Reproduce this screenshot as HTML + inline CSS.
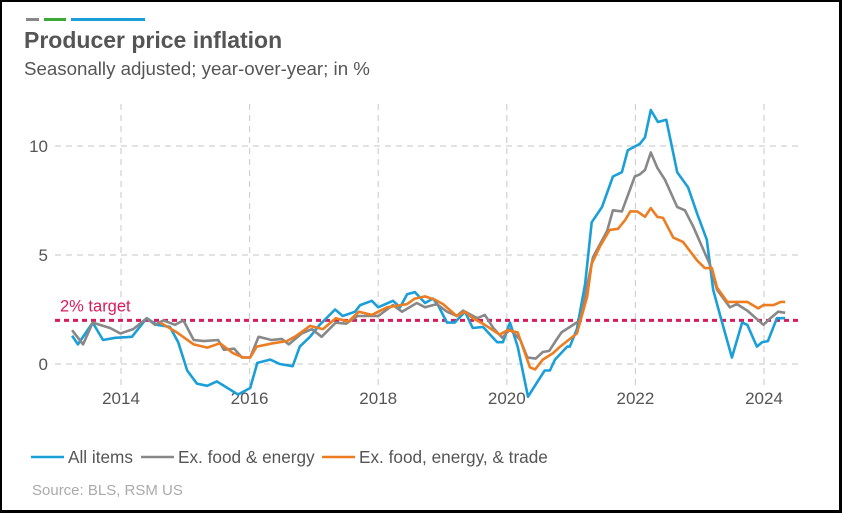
<!DOCTYPE html>
<html><head><meta charset="utf-8"><style>
html,body{margin:0;padding:0;background:#fff;}
#wrap{position:relative;width:842px;height:513px;box-sizing:border-box;border:2px solid #000;border-right-width:3px;border-bottom-width:3px;overflow:hidden;font-family:"Liberation Sans",sans-serif;}
svg text{font-family:"Liberation Sans",sans-serif;}
</style></head><body>
<div id="wrap">
<svg id="chart" width="842" height="513" style="position:absolute;left:-2px;top:-2px">
<rect x="26" y="18" width="13" height="3" fill="#888"/>
<rect x="44" y="18" width="22" height="3" fill="#3aa935"/>
<rect x="71" y="18" width="74" height="3" fill="#1a9fd8"/>
<text x="24" y="48" font-size="23" font-weight="bold" fill="#555">Producer price inflation</text>
<text x="24" y="75" font-size="18.7" fill="#555">Seasonally adjusted; year-over-year; in %</text>
<g id="grid"></g>
<g id="series"></g>
<text x="32" y="495" font-size="15" fill="#aaa">Source: BLS, RSM US</text>
</svg>
</div>
<script>
const yTicks=[0,5,10];
const xTicks=[2014,2016,2018,2020,2022,2024];
const targetValue=2;
const seriesNames=["All items","Ex. food & energy","Ex. food, energy, & trade"];
const allDates=[2013.24,2013.33,2013.56,2013.72,2013.91,2014.17,2014.40,2014.56,2014.76,2014.89,2015.03,2015.18,2015.34,2015.49,2015.82,2016.01,2016.12,2016.32,2016.47,2016.67,2016.78,2016.94,2017.09,2017.33,2017.45,2017.64,2017.72,2017.90,2018.00,2018.23,2018.34,2018.45,2018.57,2018.73,2018.85,2018.93,2019.07,2019.19,2019.35,2019.47,2019.63,2019.74,2019.85,2019.94,2020.05,2020.17,2020.33,2020.49,2020.59,2020.67,2020.75,2020.94,2020.98,2021.09,2021.22,2021.32,2021.48,2021.65,2021.79,2021.88,2022.07,2022.15,2022.24,2022.35,2022.48,2022.65,2022.82,2022.96,2023.11,2023.21,2023.32,2023.50,2023.66,2023.74,2023.89,2023.97,2024.06,2024.20,2024.33];
const allValues=[1.3,0.9,1.9,1.1,1.2,1.25,2.1,1.8,1.7,1.0,-0.3,-0.9,-1.0,-0.8,-1.4,-1.1,0.05,0.2,0.0,-0.1,0.8,1.25,1.8,2.5,2.2,2.4,2.7,2.9,2.6,2.9,2.6,3.2,3.3,2.8,3.0,2.7,1.9,1.9,2.4,1.65,1.7,1.35,1.0,1.0,1.9,0.8,-1.5,-0.75,-0.3,-0.3,0.2,0.8,0.8,1.6,3.7,6.5,7.2,8.6,8.8,9.8,10.1,10.4,11.65,11.1,11.2,8.8,8.1,6.9,5.7,3.4,2.2,0.3,1.9,1.8,0.8,1.0,1.05,2.1,2.1];
const coreDates=[2013.24,2013.41,2013.56,2013.83,2013.99,2014.19,2014.40,2014.53,2014.66,2014.84,2014.97,2015.13,2015.29,2015.51,2015.60,2015.76,2015.88,2016.01,2016.14,2016.34,2016.50,2016.61,2016.81,2016.97,2017.12,2017.34,2017.50,2017.68,2018.00,2018.23,2018.37,2018.60,2018.73,2018.91,2019.07,2019.22,2019.32,2019.54,2019.66,2019.79,2019.93,2020.05,2020.21,2020.32,2020.45,2020.56,2020.66,2020.77,2020.85,2021.14,2021.34,2021.56,2021.65,2021.79,2021.99,2022.07,2022.15,2022.24,2022.34,2022.46,2022.65,2022.77,2022.90,2023.16,2023.27,2023.47,2023.58,2023.74,2023.99,2024.10,2024.22,2024.33];
const coreValues=[1.55,0.9,1.9,1.65,1.4,1.6,2.1,1.8,2.0,1.8,2.0,1.1,1.05,1.1,0.65,0.7,0.3,0.3,1.25,1.1,1.15,0.9,1.4,1.6,1.25,1.9,1.85,2.2,2.2,2.7,2.4,2.8,2.6,2.75,2.4,2.2,2.45,2.1,2.25,1.65,1.2,1.6,1.1,0.3,0.25,0.55,0.6,1.1,1.45,2.0,4.9,6.1,7.05,7.0,8.6,8.7,8.9,9.7,9.0,8.45,7.2,7.05,6.3,4.55,3.4,2.6,2.75,2.45,1.8,2.1,2.4,2.35];
const tradeDates=[2014.61,2014.87,2015.13,2015.34,2015.54,2015.74,2015.90,2016.01,2016.11,2016.36,2016.58,2016.73,2016.94,2017.14,2017.34,2017.54,2017.70,2017.90,2018.14,2018.45,2018.57,2018.73,2018.88,2019.01,2019.22,2019.35,2019.47,2019.63,2019.89,2020.01,2020.17,2020.36,2020.44,2020.56,2020.72,2020.83,2020.96,2021.09,2021.25,2021.32,2021.45,2021.60,2021.73,2021.84,2021.92,2022.03,2022.15,2022.24,2022.34,2022.43,2022.59,2022.74,2022.96,2023.08,2023.19,2023.27,2023.43,2023.74,2023.91,2023.99,2024.15,2024.26,2024.33];
const tradeValues=[1.9,1.45,0.9,0.75,0.95,0.5,0.3,0.3,0.8,0.95,1.05,1.3,1.75,1.6,2.1,1.95,2.4,2.25,2.6,2.75,3.0,3.1,2.95,2.75,2.2,2.4,2.1,1.85,1.35,1.55,1.45,-0.15,-0.25,0.2,0.5,0.8,1.1,1.4,3.1,4.6,5.4,6.15,6.2,6.6,7.0,7.0,6.75,7.15,6.75,6.7,5.8,5.6,4.75,4.4,4.4,3.5,2.85,2.85,2.55,2.7,2.7,2.85,2.85];

const NS="http://www.w3.org/2000/svg";
const X0=55,X1=800;
function xs(y){return 121+(y-2014)*64.3;}
function ys(v){return 364-v*21.8;}
function mk(tag,attrs,parent){const e=document.createElementNS(NS,tag);for(const k in attrs)e.setAttribute(k,attrs[k]);parent.appendChild(e);return e;}
const grid=document.getElementById('grid');
const ser=document.getElementById('series');
yTicks.forEach(t=>{
  const l=mk('line',{x1:X0,x2:X1,y1:ys(t),y2:ys(t),stroke:'#d0d0d0','stroke-width':1.2,'stroke-dasharray':'6 5'},grid);
  
  
  const tx=mk('text',{x:48,y:ys(t)+6,'font-size':17,fill:'#555','text-anchor':'end'},grid);
  tx.textContent=String(t);
  
  
});
xTicks.forEach(t=>{
  const l=mk('line',{x1:xs(t),x2:xs(t),y1:104,y2:386,stroke:'#d0d0d0','stroke-width':1.2,'stroke-dasharray':'6 5'},grid);
  
  
  const tx=mk('text',{x:xs(t),y:404,'font-size':17,fill:'#555','text-anchor':'middle'},grid);
  tx.textContent=String(t);
  
  
});
const tl=mk('line',{x1:X0,x2:X1,y1:ys(targetValue),y2:ys(targetValue),stroke:'#d81b5a','stroke-width':3,'stroke-dasharray':'5 4'},grid);


const tt=mk('text',{x:60,y:ys(targetValue)-9,'font-size':16.5,fill:'#d81b5a'},grid);
tt.textContent=targetValue+'% target';



function path(d,v,color,name){
  const p=mk('path',{d:d.map((t,i)=>(i?'L':'M')+xs(t).toFixed(1)+','+ys(v[i]).toFixed(1)).join(''),fill:'none',stroke:color,'stroke-width':2.6,'stroke-linejoin':'round'},ser);
  
  
}
path(allDates,allValues,'#1a9fd8','line-all-items');
path(coreDates,coreValues,'#888888','line-ex-food-energy');
path(tradeDates,tradeValues,'#ec7d22','line-ex-food-energy-trade');

const colors=['#1a9fd8','#888888','#ec7d22'];
const legX=[31,141,322];
const svg=document.getElementById('chart');
seriesNames.forEach((n,i)=>{
  const g=mk('g',{},svg);
  
  
  mk('line',{x1:legX[i],x2:legX[i]+33,y1:457,y2:457,stroke:colors[i],'stroke-width':2.5},g);
  const t=mk('text',{x:legX[i]+37,y:463,'font-size':17.2,fill:'#555'},g);
  t.textContent=n;
});
</script>
</body></html>
